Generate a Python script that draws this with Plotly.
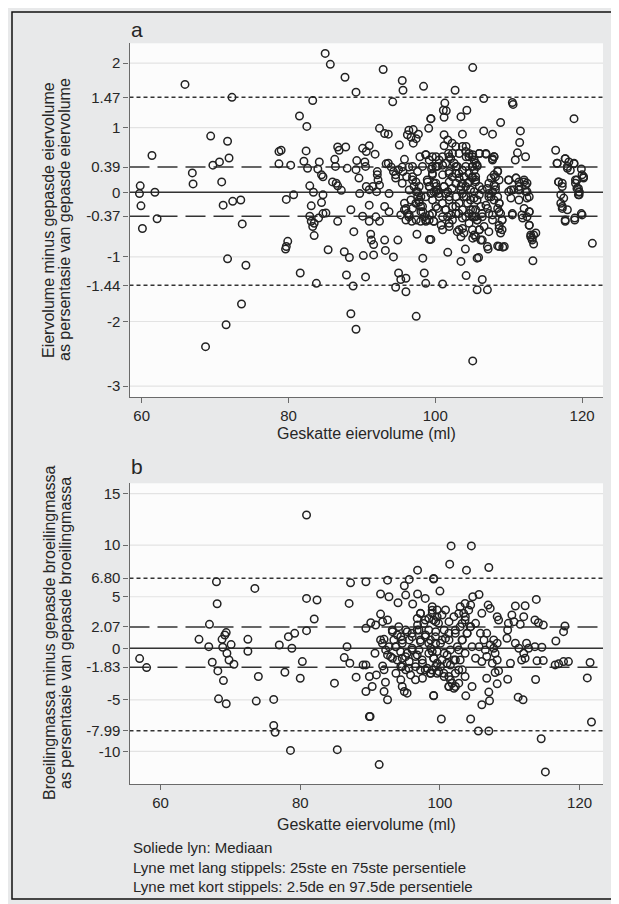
import plotly.graph_objects as go

# ---------------- data: panel a -------------------------------------------------
a_left = [(59.8,0.10),(59.7,-0.02),(59.9,-0.21),(60.1,-0.56),(61.4,0.57),(61.8,0.0),(62.1,-0.41),
          (65.9,1.67),(66.9,0.30),(67.0,0.13),(68.7,-2.39),(69.4,0.87),(69.7,0.42),(70.6,0.47),
          (70.9,0.16),(71.1,-0.20),(71.5,-2.05),(71.7,0.79),(71.7,-1.03),(71.9,0.53),(72.3,1.47),
          (72.4,-0.14),(73.5,-0.12),(73.6,-1.73),(73.7,-0.49),(74.2,-1.13)]

a_mid = [(85.0,2.15),(85.7,1.98),(87.7,1.78),(89.2,1.55),(83.3,1.42),(92.9,1.90),(94.2,1.40),(95.5,1.73),
         (95.6,1.58),(98.4,1.64),(81.5,1.18),(82.5,1.02),(99.4,1.14),(99.1,0.99),
         (92.4,0.99),(93.1,0.91),(93.6,0.90),(95.1,0.73),(96.4,0.96),(97.0,0.97),(96.2,0.89),(96.7,0.85),
         (97.4,0.83),(97.0,0.76),(97.7,0.90),
         (78.7,0.63),(79.0,0.65),(82.4,0.64),(86.7,0.70),(87.8,0.70),(86.9,0.65),(90.1,0.68),(91.0,0.72),
         (90.6,0.63),(91.8,0.59),
         (78.7,0.44),(80.3,0.42),(82.1,0.48),(82.6,0.37),(84.2,0.47),(84.0,0.36),(84.5,0.27),(84.7,0.24),
         (86.3,0.51),(86.4,0.40),(88.0,0.37),(89.3,0.49),(89.2,0.35),(90.4,0.47),(90.5,0.40),(89.6,0.22),
         (92.1,0.32),(92.1,0.27),(93.3,0.44),(93.6,0.45),(94.0,0.39),(94.3,0.32),(94.6,0.27),(95.0,0.35),
         (95.5,0.39),(95.8,0.51),(95.6,0.32),(96.1,0.24),(96.4,0.39),(97.9,0.55),(98.7,0.58),(99.6,0.55),
         (100.1,0.40),(99.5,0.36),
         (79.7,-0.11),(80.7,-0.04),(82.9,0.10),(83.4,0.0),(83.1,-0.21),(84.5,-0.16),(84.7,-0.04),(86.0,0.16),
         (86.5,0.14),(86.7,0.10),(87.2,0.03),(89.7,-0.02),(90.6,0.09),(91.0,0.04),(91.0,-0.20),(91.5,0.09),
         (92.2,0.19),(92.4,0.11),(92.0,0.01),(93.7,-0.02),(94.6,0.22),(95.5,0.14),(95.8,-0.17),(96.0,-0.25),
         (96.2,-0.33),(96.9,0.19),(97.1,0.09),(97.4,0.01),(97.6,-0.07),(97.8,-0.12),(98.0,-0.22),(98.3,-0.30),
         (98.7,-0.07),(98.9,0.19),(99.2,0.09),(99.8,0.01),(100.1,0.09),
         (82.9,-0.37),(83.1,-0.45),(83.3,-0.53),(83.5,-0.48),(84.1,-0.40),(84.7,-0.33),(85.1,-0.32),(83.5,-0.67),
         (86.7,-0.45),(88.5,-0.27),(88.9,-0.61),(90.1,-0.37),(91.0,-0.45),(91.9,-0.38),(92.4,-0.45),(93.1,-0.22),
         (93.7,-0.30),(95.3,-0.35),(95.8,-0.27),(96.4,-0.38),(96.8,-0.45),(97.4,-0.43),(98.0,-0.45),(98.7,-0.43),
         (99.2,-0.35),(99.8,-0.45),(97.5,-0.65),(99.2,-0.73),
         (79.7,-0.84),(79.9,-0.76),(79.6,-0.88),(85.4,-0.89),(87.6,-0.92),(88.3,-1.01),(90.2,-0.98),(91.2,-0.65),
         (91.3,-0.74),(91.6,-0.81),(91.6,-0.97),(93.1,-0.74),(93.2,-0.90),(94.3,-1.00),(94.9,-0.74),(98.3,-1.02),
         (81.6,-1.25),(83.8,-1.41),(87.9,-1.28),(88.8,-1.45),(90.5,-1.31),(95.0,-1.25),(95.3,-1.35),(96.0,-1.33),
         (94.6,-1.47),(96.0,-1.54),(98.5,-1.25),(98.7,-1.41),
         (88.5,-1.88),(89.2,-2.12),(97.4,-1.92)]

a_right = [(105.1,1.93),(102.7,1.58),(106.6,1.45),(110.5,1.39),(110.6,1.36),(101.3,1.38),(101.1,1.27),
           (101.5,1.26),(101.2,1.16),(99.4,1.14),(103.5,1.17),(104.3,1.27),(108.9,1.08),(106.6,0.95),
           (107.8,0.90),(111.6,0.95),(111.5,0.77),(118.9,1.14),(103.7,0.90),
           (101.2,0.89),(101.7,0.81),(101.2,0.72),(102.3,0.76),(102.8,0.71),(101.8,0.60),(102.1,0.52),(103.7,0.71),
           (104.2,0.71),(104.6,0.60),(104.2,0.55),(105.1,0.58),(106.0,0.60),(106.9,0.59),(108.0,0.55),(107.8,0.52),
           (111.2,0.61),(112.3,0.55),(110.9,0.50),(116.4,0.65),(117.7,0.52),(116.6,0.45),(118.0,0.37),(118.9,0.44),
           (119.9,0.36),(120.2,0.24),
           (100.1,0.55),(100.3,0.40),(99.6,0.40),(101.0,0.42),(99.6,0.27),(101.0,0.27),(101.9,0.32),(102.8,0.40),
           (103.2,0.29),(103.7,0.34),(103.9,0.24),(104.6,0.29),(105.1,0.40),(105.7,0.42),(105.5,0.24),(108.5,0.33),
           (108.2,0.24),(110.0,0.19),(111.0,0.22),(112.1,0.19),(112.3,0.11),(111.4,0.09),(112.5,0.01),(112.8,-0.07),
           (116.8,0.16),(117.3,0.14),(119.3,0.19),(119.5,0.06),(119.6,0.0),(119.5,-0.04),
           (99.8,0.14),(100.1,0.01),(100.5,-0.02),(101.2,0.09),(101.7,0.01),(101.9,-0.07),(102.3,0.06),(102.8,0.14),
           (103.5,0.09),(103.7,-0.02),(104.2,-0.07),(104.4,0.14),(104.8,0.04),(105.3,-0.09),(106.0,-0.04),
           (106.4,0.04),(107.1,0.06),(107.3,-0.02),(107.6,-0.07),(108.0,0.11),(108.2,0.04),(108.5,-0.07),
           (108.7,-0.17),(110.0,0.01),(110.3,-0.09),(110.7,0.04),
           (99.6,-0.33),(100.3,-0.25),(101.0,-0.38),(101.4,-0.27),(102.1,-0.35),(102.8,-0.22),(103.2,-0.33),
           (103.7,-0.40),(104.6,-0.33),(105.1,-0.27),(105.5,-0.38),(106.4,-0.33),(107.1,-0.25),(107.8,-0.35),
           (108.7,-0.30),(109.1,-0.43),(110.5,-0.33),(111.8,-0.35),(112.8,-0.30),(117.7,-0.45),(119.0,-0.43),
           (119.9,-0.33),(117.3,-0.25),(117.1,-0.17),
           (99.8,-0.45),(101.0,-0.58),(100.8,-0.51),(101.9,-0.53),(103.0,-0.61),(103.5,-0.69),(103.7,-0.56),
           (105.1,-0.71),(106.0,-0.58),(106.2,-0.74),(107.3,-0.61),(108.7,-0.56),(108.9,-0.63),(112.8,-0.51),
           (113.0,-0.69),(113.2,-0.74),(113.7,-0.63),(113.4,-0.80),(99.4,-0.73),
           (101.7,-0.93),(104.1,-0.88),(107.2,-0.88),(108.5,-0.83),(109.2,-0.85),(103.5,-1.07),(105.9,-1.01),
           (113.3,-1.06),(121.4,-0.79),
           (101.0,-1.42),(104.2,-1.29),(106.4,-1.35),(105.7,-1.51),(107.1,-1.51),(105.1,-2.61)]

a_core = [(96.9,0.24),(97.36,0.16),(97.81,0.09),(97.58,0.01),(98.04,-0.07),(97.81,-0.15),(98.26,-0.22),
          (97.36,-0.17),(98.04,-0.30),(98.49,-0.38),(98.72,-0.45),(99.17,-0.43),(99.62,-0.33),(100.08,-0.22),
          (99.62,-0.12),(99.4,-0.02),(99.17,0.09),(98.94,0.16),(100.08,0.14),(100.3,0.035),(100.53,-0.07),
          (100.98,-0.17),(101.43,-0.27),(101.66,-0.38),(101.89,-0.48),(102.34,-0.43),(102.8,-0.33),(102.34,-0.22),
          (101.89,-0.12),(101.43,-0.02),(101.2,0.09),(101.89,0.16),(102.34,0.24),(102.8,0.29),(103.25,0.22),
          (103.7,0.14),(104.15,0.09),(104.6,0.16),(105.06,0.24),(105.5,0.19),(103.47,0.035),(103.9,-0.07),
          (104.4,-0.17),(104.8,-0.27),(105.3,-0.38),(105.7,-0.43),(103.25,-0.17),(102.8,-0.07),(103.7,-0.27),
          (104.15,-0.38),(104.6,-0.48),(103.25,-0.58),(103.9,-0.63),(105.06,-0.58),(105.5,-0.69),(101.89,0.29),
          (101.43,0.45),(101.89,0.55),(102.34,0.60),(103.25,0.60),(104.15,0.63),(104.6,0.55),(105.3,0.50),
          (105.7,0.40),(105.06,0.40),(104.15,0.40),(103.7,0.34),(103.0,0.40),(102.57,0.45),(100.98,0.55),
          (100.53,0.50),(100.08,0.40),(99.62,0.29),(99.17,0.50),(98.72,0.58),(98.26,0.40),(97.58,0.32),
          (96.9,0.40),(96.45,0.035),(96.68,-0.12),(96.9,-0.25),(96.45,-0.35),(96.0,-0.43),
          (110.0,0.19),(110.3,0.035),(111.0,0.22),(111.4,0.16),(112.1,0.16),(112.5,0.14),(111.4,0.035),
          (112.3,0.01),(112.5,-0.09),(111.4,-0.12),(112.1,-0.25),(112.8,-0.30),(112.5,-0.38),(111.9,-0.40),
          (110.5,-0.35),(112.8,-0.51),(113.0,-0.66),(113.4,-0.66),(113.2,-0.71),(116.8,0.16),(117.3,0.09),
          (117.1,-0.04),(117.5,-0.09),(117.3,-0.22),(118.0,-0.27),(117.7,-0.43),(119.0,-0.40),(120.0,-0.35),
          (119.1,0.14),(119.3,0.06),(119.6,0.01),(119.6,-0.04),(119.1,0.19),(120.0,0.27),(120.2,0.22),
          (118.2,0.47),(118.0,0.40),(118.4,0.34),(116.6,0.45),(117.7,0.52),(118.9,0.45)]

a_core2 = [(105.06,0.55),(105.5,0.45),(106.0,0.60),(106.9,0.60),(108.0,0.55),(107.8,0.50),(105.3,0.34),
           (105.06,0.22),(105.5,0.16),(106.0,0.09),(105.3,0.01),(104.8,-0.12),(105.7,-0.12),(106.2,-0.22),
           (105.5,-0.27),(105.06,-0.38),(105.7,-0.43),(106.4,-0.38),(106.65,-0.53),(106.0,-0.58),(105.3,-0.66),
           (106.4,-0.74),(107.1,-0.84),(107.3,0.14),(107.6,0.22),(108.0,0.27),(108.5,0.32),(108.7,0.19),
           (108.2,0.09),(107.8,0.01),(107.3,-0.07),(108.0,-0.12),(108.7,-0.17),(108.5,-0.25),(108.9,-0.33),
           (109.1,-0.43),(108.7,-0.51),(109.1,-0.58),(107.8,-0.43),(107.3,-0.33),(106.9,-0.20),(109.4,-0.84),
           (108.7,-0.84),(105.7,-1.02)]

# ---------------- data: panel b -------------------------------------------------
b_left = [(57.0,-1.0),(58.0,-1.87),(65.5,0.87),(66.9,0.16),(67.0,2.32),(68.0,6.45),(68.1,4.32),(67.4,-1.35),
          (68.2,-2.19),(69.0,-3.13),(68.3,-4.90),(69.4,-5.38),(68.8,0.87),(69.2,1.29),(69.4,1.52),(68.9,0.10),
          (69.5,-0.48),(69.8,-1.13),(70.1,0.36),(70.5,-1.55),(72.5,0.87),(72.5,-0.29),(73.5,5.81),(74.0,-2.74),
          (73.7,-5.12),(76.2,-4.96),(76.2,-7.48),(76.4,-8.15),(77.0,0.32)]

b_mid = [(80.9,12.93),(80.9,4.84),(82.4,4.68),(82.0,2.84),(80.9,1.71),(79.2,1.45),(78.3,1.13),(78.8,0.0),
         (80.3,-1.29),(77.8,-2.32),(80.0,-2.9),(78.6,-9.9),(85.3,-9.83),(84.9,-3.38),(86.7,0.16),(86.3,-0.9),
         (87.1,-1.45),(88.0,-2.80),(87.2,6.35),(87.0,4.35),(89.4,6.45),(89.4,1.94),(90.1,2.48),(89.0,-1.61),
         (89.4,-1.61),(89.9,-2.74),(90.9,-2.58),(90.3,-3.7),(89.4,-4.19),(89.9,-6.61),(90.0,-6.61),(91.3,-11.28),
         (92.0,-4.19),(92.5,-4.99),(92.2,-3.29),(92.0,-2.09),(91.8,-1.71),(90.7,-0.48),(91.5,0.81),(90.8,2.26),
         (91.5,3.32),(91.8,2.58),(92.5,2.74),(92.5,6.61),(91.5,5.26),(92.7,5.0),(94.0,4.42),(94.9,6.06),
         (95.1,5.16),(95.6,6.68),(96.8,7.58),(96.8,5.26),(96.1,4.29),(97.9,4.84),(99.1,6.77),(99.1,-4.58),
         (94.9,-4.19),(95.3,-4.35),(94.4,-3.06),(94.6,-3.7),
         (93.2,1.61),(93.4,0.81),(92.7,0.16),(93.7,0.16),(94.4,1.13),(94.6,0.49),(95.1,1.77),(95.6,0.81),
         (96.0,0.0),(95.3,-0.48),(94.6,-0.97),(95.6,-1.29),(96.5,-0.80),(97.0,-0.16),(97.2,0.81),(97.9,1.13),
         (98.4,0.49),(98.9,-0.32),(97.5,-1.45),(97.9,-2.09),(98.6,-2.42),(99.4,-1.77),(96.8,2.26),(97.2,3.39),
         (97.9,2.74),(98.9,3.39),(99.4,2.58),(94.4,-1.77),(93.7,-2.42),(95.1,-2.09),(95.8,-2.58),(96.5,-3.06),
         (97.5,-2.90),(93.2,-0.97),(92.5,-0.64),(97.0,1.77),(96.0,1.45),(94.1,2.10),(92.0,0.87)]

b_right = [(101.6,9.93),(104.5,9.93),(101.4,8.16),(103.8,7.58),(107.0,7.84),(99.1,6.71),(100.0,5.55),
           (113.8,4.74),(105.6,5.22),(104.7,5.0),(103.6,4.35),(104.4,4.19),(110.8,4.1),(112.2,4.13),(106.9,4.19),
           (107.2,3.87),(106.0,3.39),(108.2,3.07),(108.4,2.74),(110.3,3.23),(112.0,3.07),(110.6,2.58),(109.8,2.42),
           (111.5,2.32),(113.6,2.74),(114.8,2.26),(114.1,2.48),(117.9,2.16),(117.7,1.61),(116.6,0.71),(109.7,1.77),
           (109.6,0.97),(110.8,0.49),(111.3,0.0),(112.0,-0.48),(112.4,0.49),(112.7,0.0),(112.2,-0.97),(111.7,-1.13),
           (113.6,0.16),(114.6,0.10),(113.9,-1.22),(114.8,-1.19),(110.1,-1.45),(116.5,-1.61),(117.0,-1.51),
           (117.7,-1.29),(118.4,-1.29),(121.5,-1.38),(121.1,-2.87),(113.7,-3.03),(109.7,-3.0),(121.7,-7.15),
           (114.5,-8.77),(115.1,-11.99),(107.0,-8.02),(105.5,-8.02),(100.2,-6.86),(104.4,-6.86),(99.1,-4.61),
           (111.2,-4.74),(111.9,-4.99),(106.0,-5.48),(107.1,-5.09),(107.0,-4.25),(103.7,-4.61),(104.6,-3.70),
           (106.7,-2.90),(108.2,-3.45),(107.9,-2.35),(108.4,-2.19),
           (98.9,4.03),(99.6,3.71),(100.3,3.23),(100.8,3.71),(99.1,2.74),(99.8,2.42),(98.4,1.77),(99.4,1.61),
           (100.6,1.77),(101.3,2.58),(102.0,3.07),(102.9,4.03),(103.4,3.39),(103.6,2.74),(102.9,2.10),(102.2,1.45),
           (101.3,0.81),(100.3,0.81),(99.4,0.49),(98.7,0.0),(99.6,-0.32),(100.6,-0.48),(101.5,-0.16),(102.5,0.16),
           (103.2,0.81),(103.9,1.45),(104.4,2.10),(105.1,2.42),(105.8,1.45),(106.3,0.81),(105.6,0.16),(104.6,0.16),
           (103.6,-0.48),(102.9,-1.13),(102.0,-1.13),(101.0,-1.45),(100.1,-1.77),(99.1,-0.97),(98.7,-2.42),
           (99.6,-2.42),(100.6,-2.74),(101.5,-3.06),(102.2,-2.42),(103.2,-2.09),(101.3,-3.70),(102.0,-3.87),
           (102.7,-3.38),(103.6,-2.74),(106.5,-0.16),(107.2,0.32),(107.7,0.0),(107.9,-0.48),(108.2,-1.13),
           (107.5,-1.45),(106.7,-0.80),(106.0,-1.29),(105.1,-0.97),(107.7,0.81),(108.2,0.49),(106.7,1.45)]

b_core = [(93.18,1.77),(93.9,1.29),(94.6,0.80),(95.32,1.61),(96.03,1.12),(96.75,1.77),(97.22,0.64),(97.94,1.29),
          (98.65,0.80),(99.36,1.12),(100.08,0.48),(100.79,0.96),(101.27,1.45),(93.66,0.16),(94.37,-0.33),
          (95.08,-0.81),(96.03,-0.16),(96.75,-0.65),(97.46,-1.13),(98.41,-0.49),(99.13,-0.97),(99.6,-1.45),
          (100.31,-1.13),(101.03,-0.65),(101.5,-1.62),(102.22,-1.13),(102.69,-2.10),(101.27,-2.74),(100.55,-2.42),
          (99.84,-2.26),(98.89,-2.10),(98.17,-1.94),(97.22,-2.10),(96.5,-1.78),(95.56,-1.94),(94.6,-1.78),
          (93.9,-1.13),(92.94,-0.81),(92.23,-0.16),(91.76,0.48),(101.74,-3.39),(102.22,-3.71),(101.27,-3.71),
          (102.69,-0.16),(103.17,0.80),(103.88,1.45),(104.36,2.09),(103.64,3.06),(104.12,3.70),(102.69,3.38),
          (103.17,2.41),(102.22,1.77),(98.89,3.70),(99.6,3.06),(98.41,2.90),(97.22,3.38),(96.75,2.90),(97.7,2.41)]

# percentile reference values
a_median, a_q25, a_q75, a_p025, a_p975 = 0.0, -0.37, 0.39, -1.44, 1.47
b_median, b_q25, b_q75, b_p025, b_p975 = 0.0, -1.83, 2.07, -7.99, 6.80

x_ticks = [60, 80, 100, 120]
a_yticks = [2, 1.47, 1, 0.39, 0, -0.37, -1, -1.44, -2, -3]
a_ytext = ["2", "1.47", "1", "0.39", "0", "-0.37", "-1", "-1.44", "-2", "-3"]
a_grid = [2, 1, 0, -1, -2, -3]
b_yticks = [15, 10, 6.80, 5, 2.07, 0, -1.83, -5, -7.99, -10]
b_ytext = ["15", "10", "6.80", "5", "2.07", "0", "-1.83", "-5", "-7.99", "-10"]
b_grid = [15, 10, 5, 0, -5, -10]

a_pts = a_left + a_mid + a_right + a_core + a_core2
b_pts = b_left + b_mid + b_right + b_core
ax_, ay_ = [p[0] for p in a_pts], [p[1] for p in a_pts]
bx_, by_ = [p[0] for p in b_pts], [p[1] for p in b_pts]

# ---------------- figure ------------------------------------------------------
OFF = 8                       # page body margin of the html page
W, H = 619 - OFF, 904 - OFF   # figure size so that it fills the window exactly

def px(x):                    # window pixel -> paper fraction
    return (x - OFF) / W

def py(y):
    return 1 - (y - OFF) / H

FONT = "Liberation Sans, Arial, sans-serif"
INK = "#222222"
AXC = "#6a6a6a"
TXT = "#262626"

fig = go.Figure()
marker = dict(symbol="circle-open", size=7.5, color=INK, line=dict(width=1.5, color=INK))
fig.add_trace(go.Scatter(x=ax_, y=ay_, mode="markers", marker=marker, xaxis="x", yaxis="y",
                         hoverinfo="skip", showlegend=False))
fig.add_trace(go.Scatter(x=bx_, y=by_, mode="markers", marker=marker, xaxis="x2", yaxis="y2",
                         hoverinfo="skip", showlegend=False))

xdom = [px(129.5), px(603)]
common_x = dict(showline=True, linecolor=AXC, linewidth=1.2, ticks="outside", ticklen=5,
                tickcolor=AXC, tickwidth=1.2, showgrid=False, zeroline=False,
                tickvals=x_ticks, tickfont=dict(family=FONT, size=15, color=TXT))
common_y = dict(showline=True, linecolor=AXC, linewidth=1.2, ticks="outside", ticklen=5,
                tickcolor=AXC, tickwidth=1.2, showgrid=False, zeroline=False,
                tickfont=dict(family=FONT, size=15, color=TXT))

shapes = []
for ref, grid in (("y", a_grid), ("y2", b_grid)):
    xr = "x domain" if ref == "y" else "x2 domain"
    for g in grid:
        shapes.append(dict(type="line", xref=xr, yref=ref, x0=0, x1=1, y0=g, y1=g,
                           line=dict(color="#e3e3e3", width=1.2), layer="below"))

def refline(xr, yr, v, dash):
    return dict(type="line", xref=xr, yref=yr, x0=0, x1=1, y0=v, y1=v,
                line=dict(color="#333333", width=1.5, dash=dash), layer="below")

LONG, SHORT = "20px,8px", "4px,3px"
shapes += [refline("x domain", "y", a_median, "solid"), refline("x domain", "y", a_q25, LONG),
           refline("x domain", "y", a_q75, LONG), refline("x domain", "y", a_p025, SHORT),
           refline("x domain", "y", a_p975, SHORT),
           refline("x2 domain", "y2", b_median, "solid"), refline("x2 domain", "y2", b_q25, LONG),
           refline("x2 domain", "y2", b_q75, LONG), refline("x2 domain", "y2", b_p025, SHORT),
           refline("x2 domain", "y2", b_p975, SHORT)]
# outer frame
shapes.append(dict(type="rect", xref="paper", yref="paper", x0=px(12), x1=px(613), y0=py(899), y1=py(12),
                   line=dict(color="#111", width=1.5), fillcolor="rgba(0,0,0,0)", layer="above"))

ann = []
def text(x, y, s, size=16, angle=0, xanchor="center"):
    ann.append(dict(x=px(x), y=py(y), xref="paper", yref="paper", text=s, showarrow=False,
                    textangle=angle, xanchor=xanchor, yanchor="middle",
                    font=dict(family=FONT, size=size, color=TXT)))

text(129, 30, "a", size=21, xanchor="left")
text(129, 466, "b", size=21, xanchor="left")
text(49, 220, "Eiervolume minus gepasde eiervolume", angle=-90)
text(65, 220, "as persentasie van gepasde eiervolume", angle=-90)
text(49, 633, "Broeilingmassa minus gepasde broeilingmassa", angle=-90)
text(65, 633, "as persentasie van gepasde broeilingmassa", angle=-90)
text(366.5, 433, "Geskatte eiervolume (ml)")
text(366.5, 824, "Geskatte eiervolume (ml)")
text(131, 867, "Soliede lyn: Mediaan<br>Lyne met lang stippels: 25ste en 75ste persentiele<br>"
               "Lyne met kort stippels: 2.5de en 97.5de persentiele", size=15, xanchor="left")
ann[-1]["align"] = "left"

fig.update_layout(
    width=W, height=H, margin=dict(l=0, r=0, t=0, b=0),
    paper_bgcolor="#e8e9ea", plot_bgcolor="#fcfcfc",
    showlegend=False,
    xaxis=dict(domain=xdom, range=[58.34, 122.85], anchor="y", **common_x),
    yaxis=dict(domain=[py(397), py(43.3)], range=[-3.169, 2.306], anchor="x",
               tickvals=a_yticks, ticktext=a_ytext, **common_y),
    xaxis2=dict(domain=xdom, range=[55.55, 123.35], anchor="y2", **common_x),
    yaxis2=dict(domain=[py(784), py(483.3)], range=[-13.16, 16.0], anchor="x2",
                tickvals=b_yticks, ticktext=b_ytext, **common_y),
    shapes=shapes, annotations=ann,
)

fig.write_html("out.html")
